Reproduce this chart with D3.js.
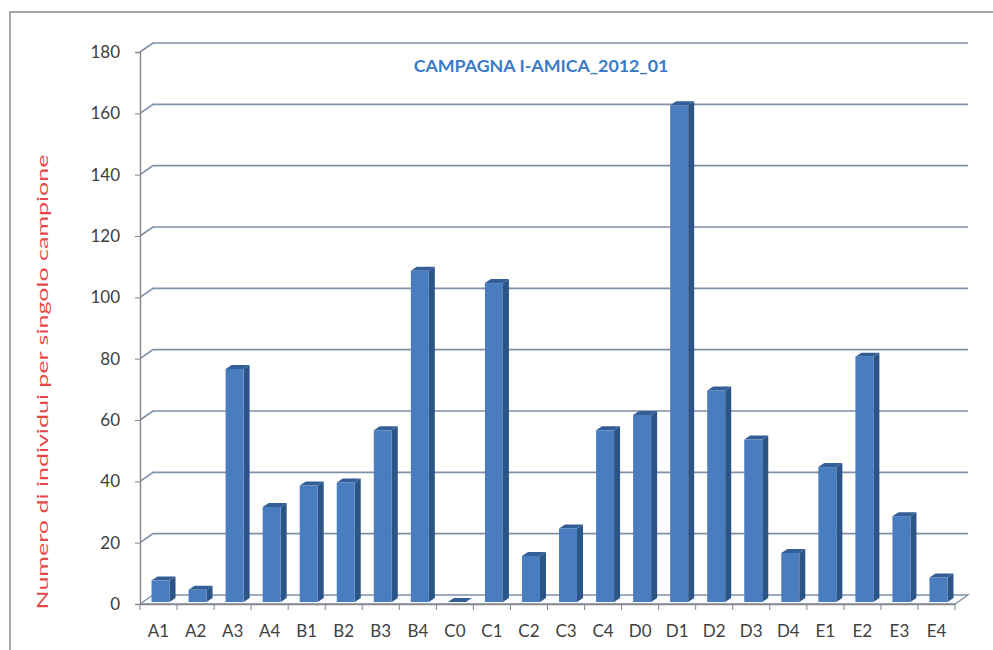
<!DOCTYPE html>
<html><head><meta charset="utf-8">
<script src="https://cdn.jsdelivr.net/npm/d3@7"></script>
<style>body{margin:0;background:#fff}svg{display:block}</style>
</head><body>
<svg id="c" width="993" height="650"></svg>
<script>
const categories = ["A1","A2","A3","A4","B1","B2","B3","B4","C0","C1","C2","C3","C4","D0","D1","D2","D3","D4","E1","E2","E3","E4"];
const values = [7,4,76,31,38,39,56,108,0,104,15,24,56,61,162,69,53,16,44,80,28,8];
const yTicks = [0,20,40,60,80,100,120,140,160,180];
const titleText = "CAMPAGNA I-AMICA_2012_01";
const yLabel = "Numero di individui per singolo campione";

const svg = d3.select("#c");
const font = "Lato, 'Open Sans', sans-serif";
svg.append("rect").attr("x",10).attr("y",12).attr("width",1000).attr("height",700)
  .attr("fill","#fff").attr("stroke","#8a8a8a").attr("stroke-width",1.5);

const x0 = 140, x1 = 955, yTop = 52, yBot = 604;
const depX = 13, depY = -9;
const x = d3.scaleBand().domain(categories).range([x0, x1]);
const y = d3.scaleLinear().domain([0,180]).range([yBot, yTop]);

const gridCol = "#7f8fab";
const g = svg.append("g");
yTicks.forEach(t => {
  if (t === 0) return;
  g.append("path")
    .attr("d", `M${x0},${y(t)} L${x0+depX},${y(t)+depY} L${x1+depX},${y(t)+depY}`)
    .attr("fill","none").attr("stroke",gridCol).attr("stroke-width",1.6);
});
g.append("path")
  .attr("d", `M${x0},${yBot} L${x0+depX},${yBot+depY} L${x1+depX},${yBot+depY} L${x1},${yBot} Z`)
  .attr("fill","#fafcfe").attr("stroke",gridCol).attr("stroke-width",1.3);

const yAxis = d3.axisLeft(y).tickValues(yTicks).tickSize(5).tickPadding(15);
const ya = svg.append("g").attr("transform",`translate(${x0},0)`).call(yAxis);
ya.select(".domain").attr("stroke","#868686").attr("stroke-width",1.4);
ya.selectAll(".tick line").attr("stroke","#868686");
ya.selectAll(".tick text").attr("font-family",font).attr("font-size",17).attr("fill","#404040");

const xAxis = d3.axisBottom(x).tickSize(0).tickPadding(21);
const xa = svg.append("g").attr("transform",`translate(0,${yBot})`).call(xAxis);
xa.select(".domain").attr("stroke","#868686").attr("stroke-width",1.4);
xa.selectAll(".tick text").attr("font-family",font).attr("font-size",17).attr("fill","#404040");
const bounds = categories.map(c => x(c)).concat([x1]);
xa.selectAll(".bt").data(bounds).enter().append("line")
  .attr("x1",d=>d).attr("x2",d=>d).attr("y1",0).attr("y2",6)
  .attr("stroke","#868686");

const bw = 18, sx = 6, sy = -4, offX = 4, offY = -2;
const bars = svg.append("g");
categories.forEach((c,i) => {
  const v = values[i];
  const cx = x(c) + x.bandwidth()/2 + offX - bw/2 - sx/2 + 1;
  const yb = y(0) + offY, yt = y(v) + offY;
  const gg = bars.append("g");
  gg.append("path").attr("d",
    `M${cx+bw},${yb} L${cx+bw+sx},${yb+sy} L${cx+bw+sx},${yt+sy} L${cx+bw},${yt} Z`)
    .attr("fill","#2b5587");
  gg.append("path").attr("d",
    `M${cx},${yt} L${cx+sx},${yt+sy} L${cx+bw+sx},${yt+sy} L${cx+bw},${yt} Z`)
    .attr("fill","#345f96");
  gg.append("rect").attr("x",cx).attr("y",yt).attr("width",bw).attr("height",Math.max(0,yb-yt))
    .attr("fill","#4a7dc0");
});

svg.append("text").attr("x",541).attr("y",72).attr("text-anchor","middle")
  .attr("font-family",font).attr("font-weight","bold").attr("font-size",17.8)
  .attr("fill","#3a7ac6").text(titleText);

svg.append("text").attr("transform","translate(48,382) rotate(-90)").attr("text-anchor","middle")
  .attr("font-family",font).attr("font-size",15).attr("fill","#e8474a")
  .attr("textLength",455).attr("lengthAdjust","spacingAndGlyphs").text(yLabel);
</script>
</body></html>
